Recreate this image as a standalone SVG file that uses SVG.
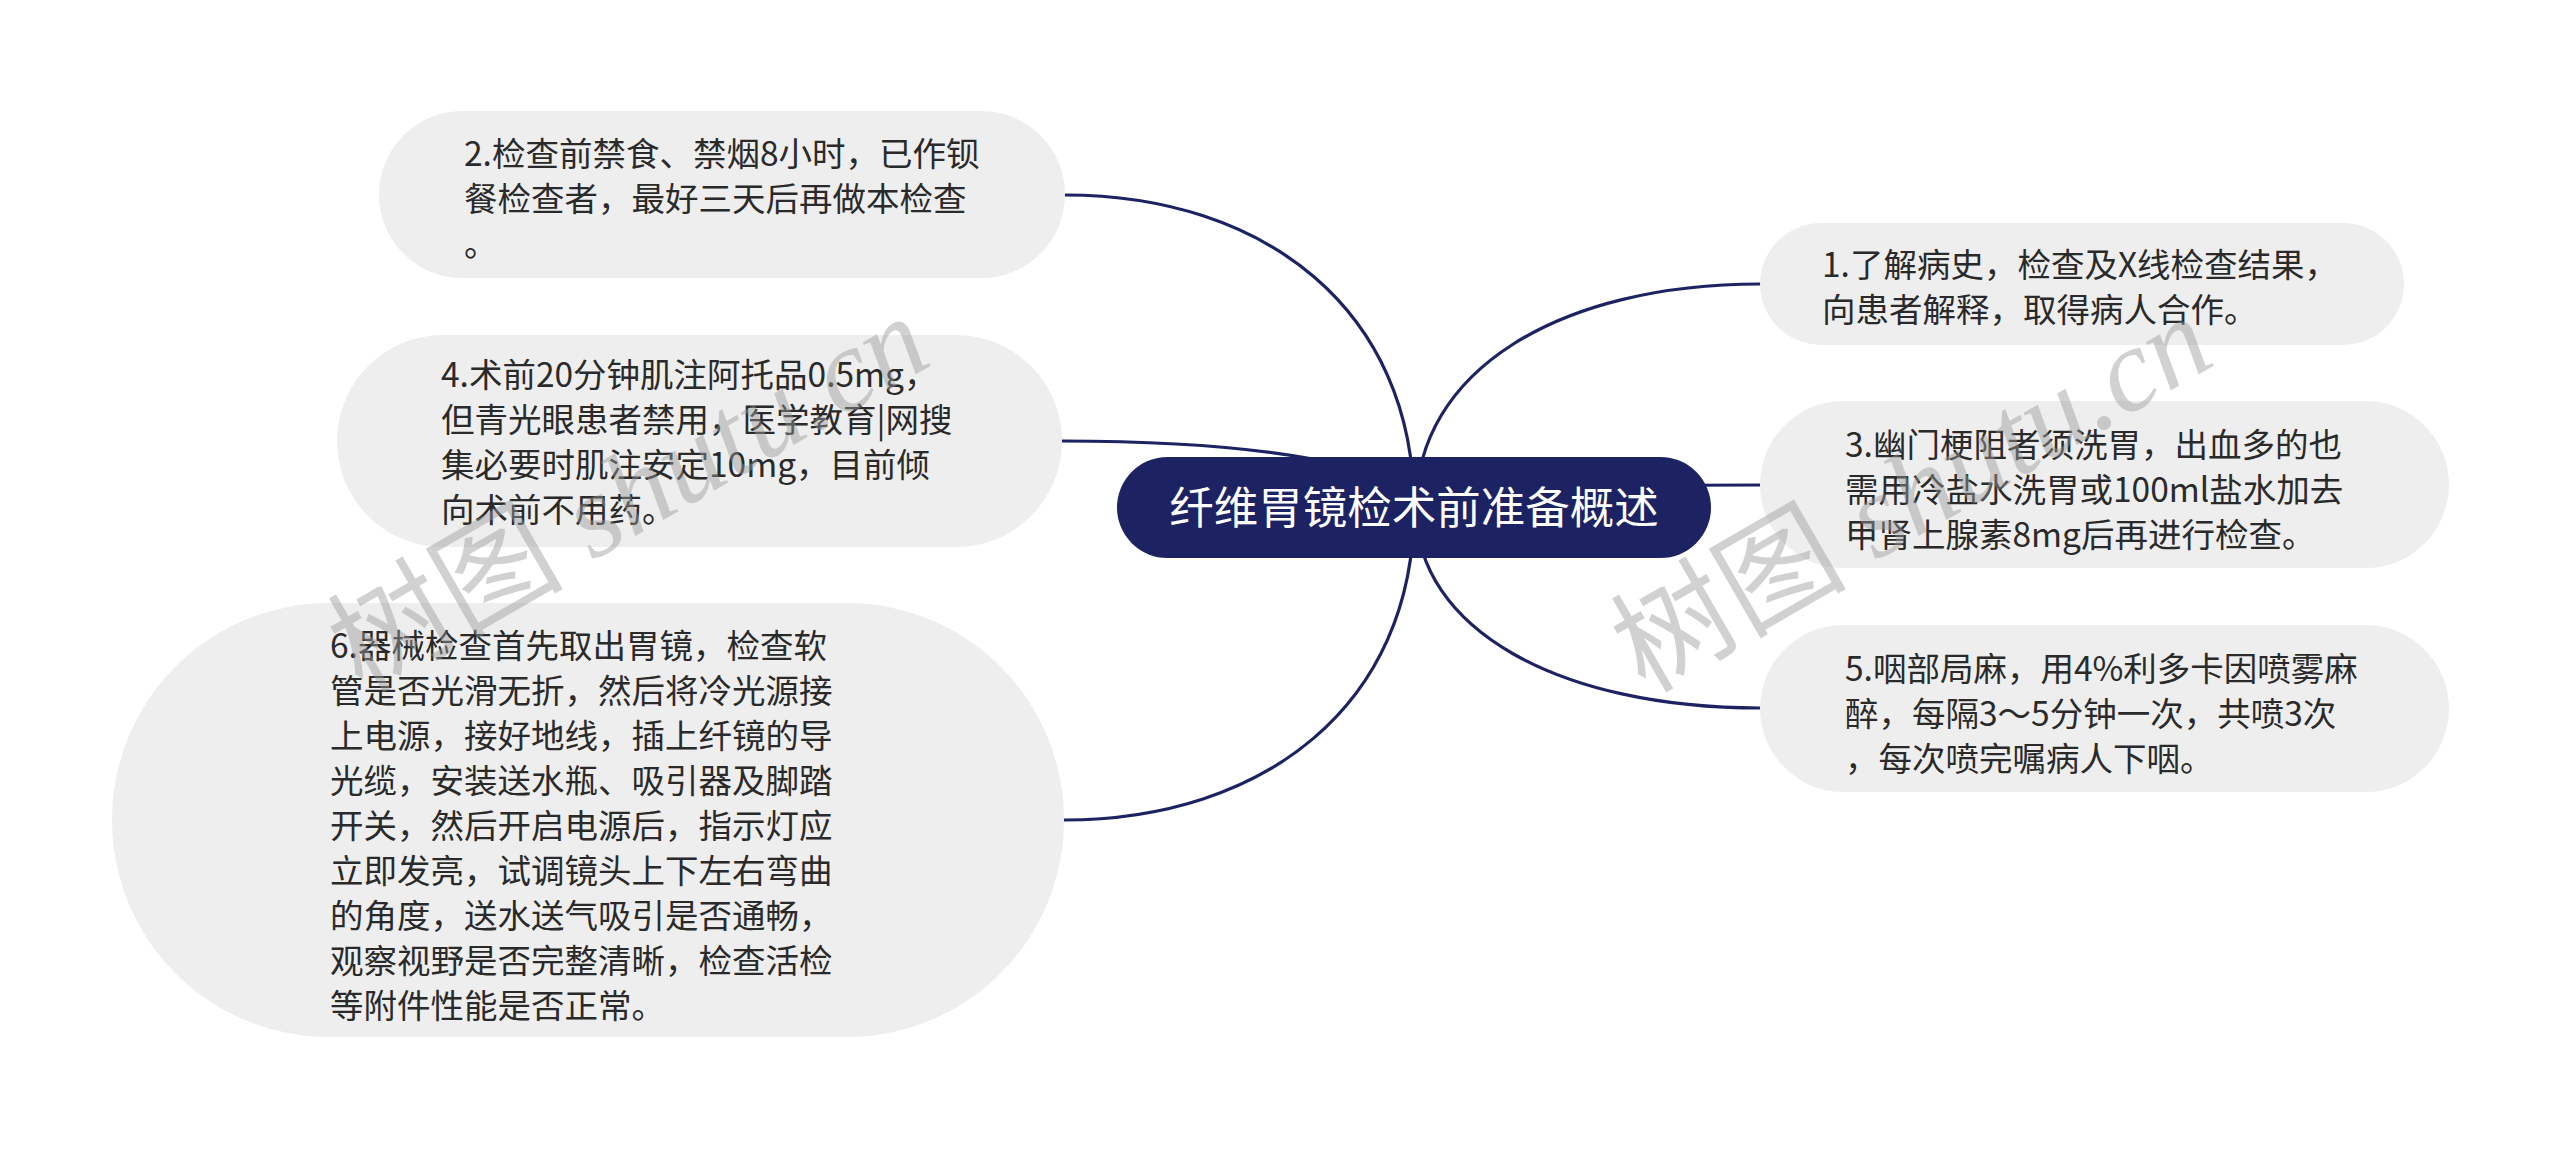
<svg xmlns="http://www.w3.org/2000/svg" width="2560" height="1150" viewBox="0 0 2560 1150">
<style>
.bg{fill:#ffffff}
.node{fill:#eeeeee}
.root{fill:#1c2262}
.t{font-family:"Noto Sans CJK SC","Liberation Sans",sans-serif;font-size:33.5px;fill:#2a2a2a}
.rt{font-family:"Noto Sans CJK SC","Liberation Sans",sans-serif;font-size:44.5px;fill:#ffffff;text-anchor:middle}
.link{fill:none;stroke:#1c2262;stroke-width:3.2;stroke-linecap:round}
.wm{font-family:"Liberation Serif","Noto Sans CJK SC",serif;font-size:118px;fill:#9a9a9a;fill-opacity:0.45}
</style>
<rect class="bg" x="0" y="0" width="2560" height="1150"/>
<g id="connectors">
<path class="link" d="M1065 195 C1265 195 1414 310 1414 508"/>
<path class="link" d="M1062 441 C1262 441 1414 467 1414 508"/>
<path class="link" d="M1064 820 C1264 820 1414 705 1414 508"/>
<path class="link" d="M1760 284 C1560 284 1416 370 1416 508"/>
<path class="link" d="M1760 485 C1560 485 1416 494 1416 508"/>
<path class="link" d="M1760 708 C1560 708 1416 630 1416 508"/>
</g>
<g id="node-root">
<rect class="root" x="1117" y="457" width="594" height="101" rx="50.5"/>
<text class="rt" x="1414" y="524">纤维胃镜检术前准备概述</text>
</g>
<g id="node-2">
<rect class="node" x="379" y="111" width="686" height="167" rx="83.5"/>
<text class="t" x="464" y="166">2.检查前禁食、禁烟8小时，已作钡</text>
<text class="t" x="464" y="211">餐检查者，最好三天后再做本检查</text>
<text class="t" x="464" y="256">。</text>
</g>
<g id="node-4">
<rect class="node" x="337" y="335" width="725" height="212" rx="106"/>
<text class="t" x="441" y="387">4.术前20分钟肌注阿托品0.5mg，</text>
<text class="t" x="441" y="432">但青光眼患者禁用，医学教育|网搜</text>
<text class="t" x="441" y="477">集必要时肌注安定10mg，目前倾</text>
<text class="t" x="441" y="522">向术前不用药。</text>
</g>
<g id="node-6">
<rect class="node" x="112" y="603" width="952" height="434" rx="217"/>
<text class="t" x="330" y="658">6.器械检查首先取出胃镜，检查软</text>
<text class="t" x="330" y="703">管是否光滑无折，然后将冷光源接</text>
<text class="t" x="330" y="748">上电源，接好地线，插上纤镜的导</text>
<text class="t" x="330" y="793">光缆，安装送水瓶、吸引器及脚踏</text>
<text class="t" x="330" y="838">开关，然后开启电源后，指示灯应</text>
<text class="t" x="330" y="883">立即发亮，试调镜头上下左右弯曲</text>
<text class="t" x="330" y="928">的角度，送水送气吸引是否通畅，</text>
<text class="t" x="330" y="973">观察视野是否完整清晰，检查活检</text>
<text class="t" x="330" y="1018">等附件性能是否正常。</text>
</g>
<g id="node-1">
<rect class="node" x="1760" y="223" width="644" height="122" rx="61"/>
<text class="t" x="1822" y="277">1.了解病史，检查及X线检查结果，</text>
<text class="t" x="1822" y="322">向患者解释，取得病人合作。</text>
</g>
<g id="node-3">
<rect class="node" x="1760" y="401" width="689" height="167" rx="83.5"/>
<text class="t" x="1845" y="457">3.幽门梗阻者须洗胃，出血多的也</text>
<text class="t" x="1845" y="502">需用冷盐水洗胃或100ml盐水加去</text>
<text class="t" x="1845" y="547">甲肾上腺素8mg后再进行检查。</text>
</g>
<g id="node-5">
<rect class="node" x="1760" y="625" width="689" height="167" rx="83.5"/>
<text class="t" x="1845" y="681">5.咽部局麻，用4%利多卡因喷雾麻</text>
<text class="t" x="1845" y="726">醉，每隔3～5分钟一次，共喷3次</text>
<text class="t" x="1845" y="771">，每次喷完嘱病人下咽。</text>
</g>
<g id="watermarks">
<text class="wm" x="362" y="694" transform="rotate(-30 362 694)">树图 <tspan font-style="italic">shutu.cn</tspan></text>
<text class="wm" x="1645" y="694" transform="rotate(-30 1645 694)">树图 <tspan font-style="italic">shutu.cn</tspan></text>
</g>
</svg>
